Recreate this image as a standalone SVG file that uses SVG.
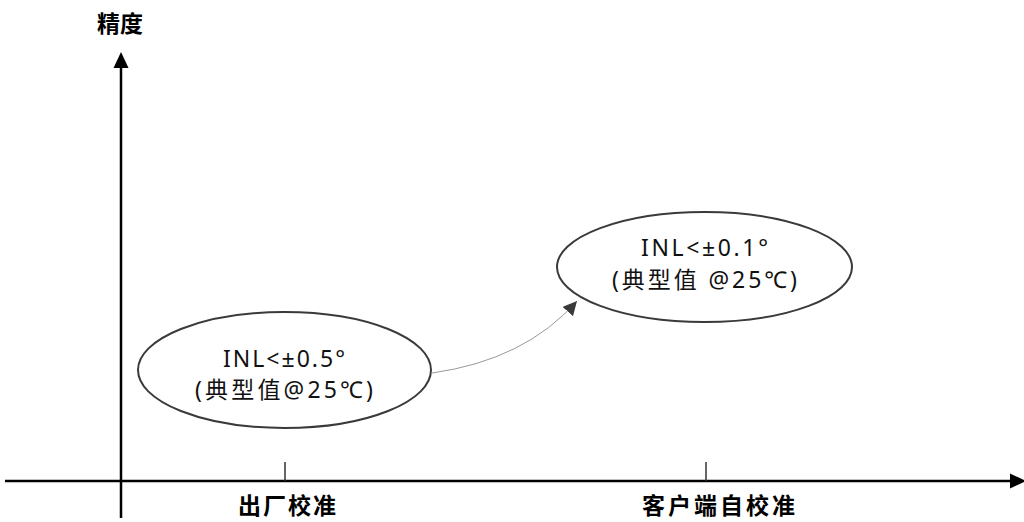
<svg xmlns="http://www.w3.org/2000/svg" width="1024" height="522" viewBox="0 0 1024 522">
<style>
.ax{stroke:#000;stroke-width:2.5;fill:none}
.tk{stroke:#333;stroke-width:1.5}
.el{fill:#fff;stroke:#3a3a3a;stroke-width:2}
.lb{font-family:"Noto Sans CJK SC","Liberation Sans",sans-serif;font-weight:bold;font-size:23px;fill:#000;letter-spacing:2px}
.nt{font-family:"Noto Sans","Noto Sans CJK SC",sans-serif;font-size:23px;fill:#111;text-anchor:middle}
</style>
<defs>
<marker id="ah2" viewBox="0 0 10 10" refX="10" refY="5" markerWidth="14" markerHeight="14" markerUnits="userSpaceOnUse" orient="auto"><path d="M0,0 L10,5 L0,10 z" fill="#3a3a3a"/></marker>
</defs>
<g id="axes">
<line class="ax" x1="121" y1="518" x2="121" y2="66"/>
<path d="M121,52 L113.5,68 L128.5,68 z" fill="#000"/>
<line class="ax" x1="5" y1="481" x2="1012" y2="481"/>
<path d="M1026,481 L1010,473.5 L1010,488.5 z" fill="#000"/>
<line class="tk" x1="285" y1="462" x2="285" y2="481"/>
<line class="tk" x1="706" y1="462" x2="706" y2="481"/>
<text class="lb" x="97" y="32" textLength="48">精度</text>
<text class="lb" x="238" y="514" textLength="100">出厂校准</text>
<text class="lb" x="642" y="514" textLength="155">客户端自校准</text>
</g>
<g id="node1">
<ellipse class="el" cx="284.5" cy="370" rx="146.5" ry="58"/>
<text class="nt" x="284" y="367" textLength="122">INL&lt;±0.5°</text>
<text class="nt" x="284" y="398" textLength="178">(典型值@25℃)</text>
</g>
<g id="node2">
<ellipse class="el" cx="704.5" cy="267" rx="147.5" ry="55"/>
<text class="nt" x="704.5" y="256" textLength="127">INL&lt;±0.1°</text>
<text class="nt" x="704.5" y="288" textLength="185">(典型值 @25℃)</text>
</g>
<g id="connectors">
<path d="M432,373 Q525,360 577,301" fill="none" stroke="#999" stroke-width="1" marker-end="url(#ah2)"/>
</g>
</svg>
